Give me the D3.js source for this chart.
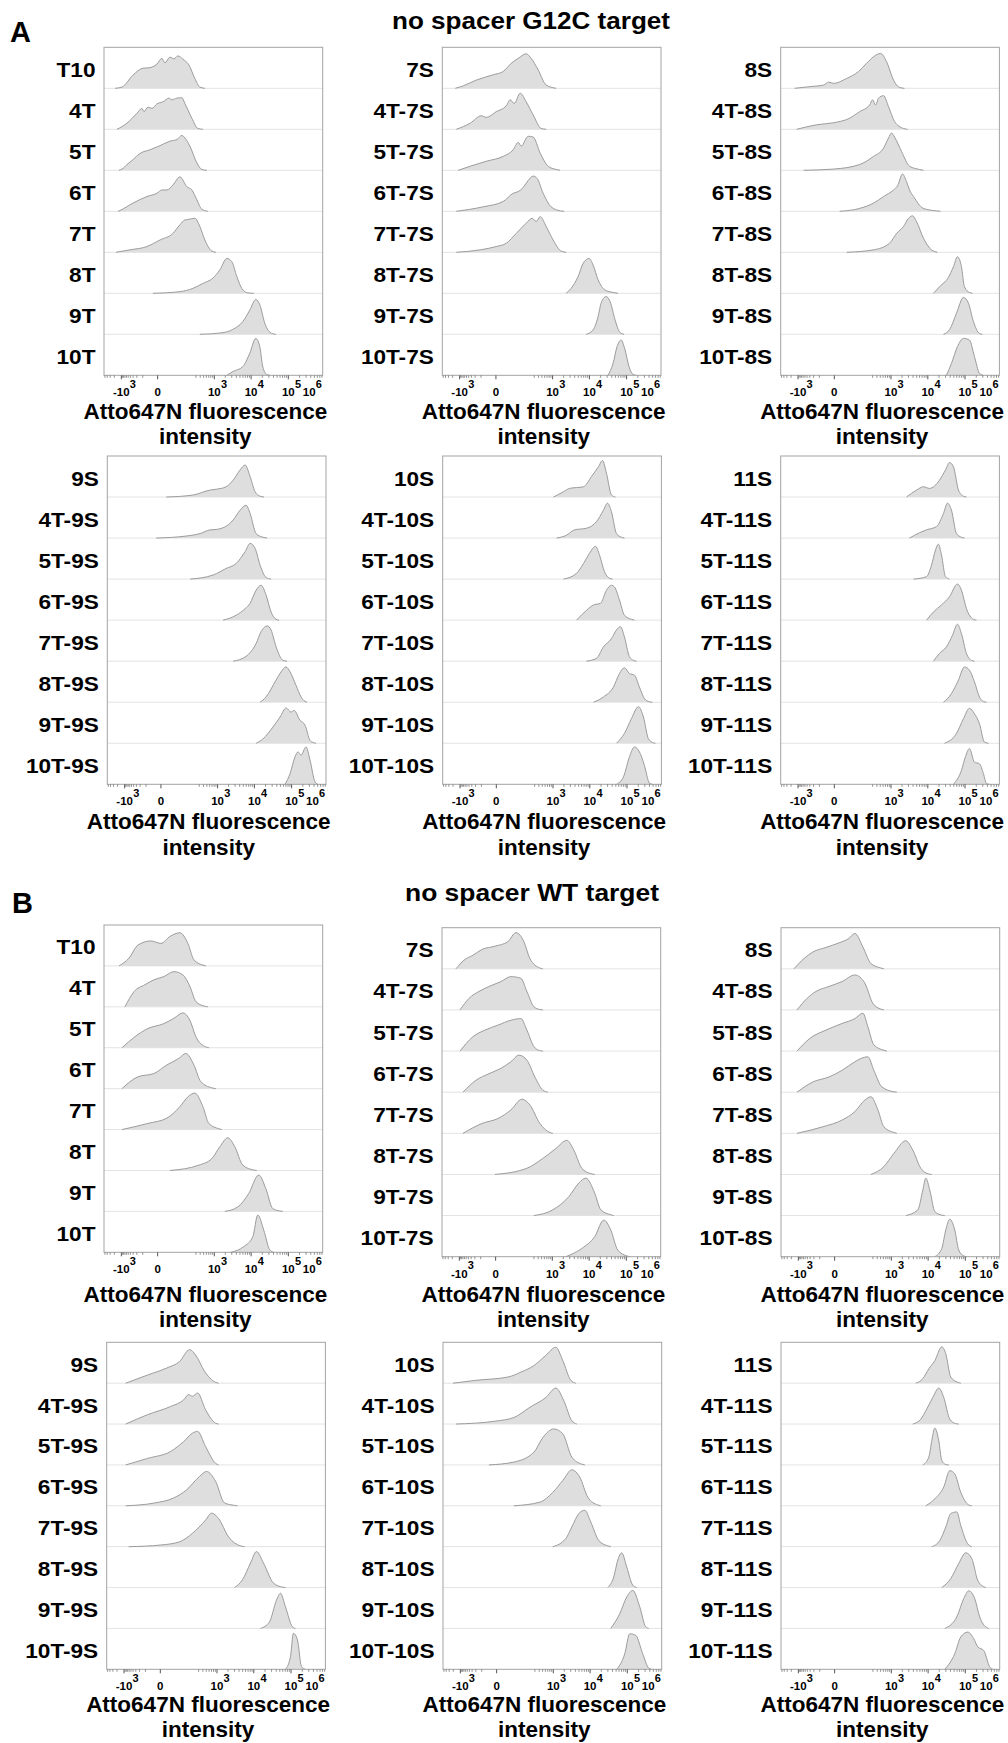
<!DOCTYPE html>
<html>
<head>
<meta charset="utf-8">
<script src="https://cdn.jsdelivr.net/npm/d3@7"></script>
<style>
  body { margin: 0; background: #fff; }
  svg text { font-family: "Liberation Sans", Arial, sans-serif; font-weight: bold; fill: #000; }
</style>
</head>
<body>
<div id="chart"></div>
<script>
// row labels (same in A and B)
const labelsT   = ["T10", "4T", "5T", "6T", "7T", "8T", "9T", "10T"];
const labels7S  = ["7S", "4T-7S", "5T-7S", "6T-7S", "7T-7S", "8T-7S", "9T-7S", "10T-7S"];
const labels8S  = ["8S", "4T-8S", "5T-8S", "6T-8S", "7T-8S", "8T-8S", "9T-8S", "10T-8S"];
const labels9S  = ["9S", "4T-9S", "5T-9S", "6T-9S", "7T-9S", "8T-9S", "9T-9S", "10T-9S"];
const labels10S = ["10S", "4T-10S", "5T-10S", "6T-10S", "7T-10S", "8T-10S", "9T-10S", "10T-10S"];
const labels11S = ["11S", "4T-11S", "5T-11S", "6T-11S", "7T-11S", "8T-11S", "9T-11S", "10T-11S"];

// histograms: [display channel (0-219, biex), % of mode]
const a_T = [
  [[11,0],[18,3],[29,32],[39,49],[45,50],[53,59],[58,73],[61,62],[66,76],[70,72],[74,79],[79,71],[85,57],[91,24],[96,3],[101,0]],
  [[13,0],[23,15],[33,39],[38,51],[40,43],[44,54],[48,51],[53,62],[59,67],[65,76],[68,72],[73,76],[78,77],[81,63],[88,27],[94,2],[99,0]],
  [[15,0],[18,3],[23,14],[29,26],[36,41],[46,50],[56,60],[66,71],[73,75],[78,85],[81,79],[86,59],[93,18],[98,2],[103,0]],
  [[14,0],[16,2],[29,20],[43,36],[53,44],[58,52],[63,52],[69,64],[76,84],[83,60],[88,52],[93,28],[98,5],[104,0]],
  [[12,0],[26,6],[43,14],[56,30],[69,46],[76,67],[81,79],[84,80],[91,83],[96,63],[101,30],[108,3],[112,0]],
  [[49,0],[76,4],[89,12],[99,24],[109,37],[116,57],[123,85],[128,77],[133,41],[138,12],[144,1],[150,0]],
  [[96,0],[119,4],[129,12],[139,31],[146,59],[152,85],[156,72],[161,27],[168,2],[172,0]],
  [[123,0],[129,9],[139,21],[146,54],[152,90],[156,70],[159,21],[163,2],[166,0]]
];
const a_7S = [
  [[13,0],[21,6],[34,20],[51,33],[61,41],[69,61],[76,73],[84,84],[89,73],[96,45],[104,8],[114,0]],
  [[14,0],[28,15],[39,33],[44,29],[54,43],[64,57],[68,72],[72,63],[78,88],[84,67],[91,35],[99,2],[104,0]],
  [[16,0],[28,10],[44,22],[61,34],[71,50],[76,68],[79,59],[86,83],[91,81],[98,42],[106,10],[114,2],[118,0]],
  [[14,0],[41,11],[61,24],[71,44],[76,48],[81,58],[86,75],[91,86],[95,80],[101,44],[109,11],[118,1],[122,0]],
  [[14,0],[38,6],[54,14],[64,22],[74,46],[84,71],[90,83],[94,75],[98,87],[104,63],[111,30],[119,3],[124,0]],
  [[124,0],[129,12],[136,41],[141,73],[147,85],[151,69],[156,33],[163,8],[171,2],[176,0]],
  [[144,0],[151,11],[156,43],[159,76],[164,92],[168,80],[173,35],[178,4],[182,0]],
  [[166,0],[171,29],[175,70],[179,86],[183,62],[187,21],[191,2],[194,0]]
];
const a_8S = [
  [[14,0],[29,4],[43,8],[48,15],[53,12],[66,24],[78,41],[86,61],[93,77],[100,85],[106,65],[113,20],[119,2],[124,0]],
  [[16,0],[36,11],[53,16],[69,27],[79,43],[89,59],[92,72],[95,59],[98,76],[103,82],[108,55],[114,19],[123,2],[127,0]],
  [[23,0],[53,3],[79,14],[93,34],[103,54],[108,79],[111,91],[114,81],[121,46],[129,10],[139,2],[143,0]],
  [[59,0],[79,7],[93,20],[103,36],[113,52],[117,62],[122,91],[126,72],[129,52],[133,36],[143,7],[156,1],[160,0]],
  [[66,0],[93,6],[109,22],[116,46],[123,63],[128,83],[132,89],[136,75],[143,34],[151,6],[157,0]],
  [[153,0],[159,16],[168,39],[173,65],[177,89],[181,65],[184,16],[189,2],[192,0]],
  [[163,0],[169,11],[176,51],[183,90],[188,76],[193,31],[199,2],[202,0]],
  [[166,0],[171,29],[177,70],[183,90],[189,86],[194,46],[199,5],[203,0]]
];
const a_9S = [
  [[59,0],[86,5],[103,17],[109,19],[119,25],[126,41],[133,66],[138,78],[143,50],[148,13],[153,2],[157,0]],
  [[49,0],[79,5],[93,11],[103,20],[109,21],[121,32],[126,44],[133,68],[139,80],[143,60],[149,11],[156,2],[160,0]],
  [[83,0],[106,10],[119,26],[129,38],[138,67],[143,87],[148,75],[153,34],[159,4],[164,0]],
  [[116,0],[129,12],[138,28],[143,41],[149,73],[154,85],[159,61],[164,20],[169,2],[172,0]],
  [[126,0],[139,12],[149,43],[154,72],[160,86],[164,76],[169,35],[176,2],[180,0]],
  [[153,0],[159,13],[169,54],[174,74],[179,86],[183,74],[189,41],[194,13],[198,2],[200,0]],
  [[149,0],[156,11],[166,40],[173,64],[179,86],[182,80],[184,76],[187,80],[193,56],[198,44],[203,7],[206,2],[209,0]],
  [[178,0],[183,26],[188,67],[191,79],[194,71],[199,91],[203,59],[208,6],[211,0]]
];
const a_10S = [
  [[111,0],[121,13],[127,21],[141,25],[149,50],[156,74],[160,89],[164,58],[169,5],[173,0]],
  [[114,0],[124,7],[132,20],[144,24],[154,40],[161,68],[165,85],[169,64],[174,11],[179,2],[182,0]],
  [[121,0],[134,14],[141,38],[147,63],[153,80],[157,59],[162,18],[167,2],[170,0]],
  [[134,0],[144,24],[151,37],[158,41],[164,73],[169,85],[172,81],[177,49],[182,12],[189,2],[192,0]],
  [[144,0],[154,7],[161,35],[169,55],[174,76],[178,84],[182,59],[187,11],[191,2],[194,0]],
  [[151,0],[161,13],[171,37],[177,70],[182,84],[187,70],[192,66],[197,37],[202,9],[207,1],[210,0]],
  [[174,0],[182,24],[189,60],[196,89],[201,64],[206,11],[211,1],[213,0]],
  [[174,0],[181,18],[187,67],[192,91],[197,79],[202,46],[207,3],[210,0]]
];
const a_11S = [
  [[126,0],[136,17],[143,25],[149,21],[159,41],[165,66],[169,84],[173,74],[178,17],[183,2],[186,0]],
  [[129,0],[139,13],[146,20],[156,28],[163,60],[167,85],[171,68],[176,11],[181,2],[184,0]],
  [[133,0],[146,6],[151,34],[155,71],[158,85],[161,59],[165,6],[169,0]],
  [[146,0],[153,20],[161,37],[169,57],[177,88],[181,73],[186,28],[193,2],[196,0]],
  [[153,0],[159,19],[166,35],[172,63],[177,90],[181,67],[186,19],[191,2],[194,0]],
  [[163,0],[171,21],[178,54],[184,86],[189,78],[194,50],[199,13],[203,2],[206,0]],
  [[164,0],[176,24],[183,60],[189,85],[194,72],[199,48],[204,3],[208,0]],
  [[173,0],[181,34],[185,67],[189,87],[194,54],[199,50],[203,26],[206,2],[209,0]]
];

const b_T = [
  [[15,0],[25,19],[34,51],[47,61],[57,55],[66,72],[76,81],[84,55],[90,15],[99,2],[102,0]],
  [[21,0],[30,37],[41,54],[50,66],[60,74],[70,86],[79,78],[86,50],[92,13],[100,2],[104,0]],
  [[18,0],[31,27],[44,47],[60,59],[70,72],[79,85],[86,67],[92,27],[102,2],[105,0]],
  [[18,0],[34,29],[50,37],[63,58],[75,74],[82,86],[90,58],[97,17],[108,2],[112,0]],
  [[18,0],[44,15],[63,28],[76,56],[84,80],[91,89],[99,56],[105,15],[115,2],[118,0]],
  [[66,0],[95,13],[108,29],[116,58],[124,80],[131,58],[139,13],[150,1],[153,0]],
  [[121,0],[134,11],[145,44],[155,89],[162,56],[169,7],[176,1],[179,0]],
  [[127,0],[140,14],[149,38],[154,91],[160,54],[166,6],[170,0]]
];
const b_7S = [
  [[14,0],[22,21],[31,33],[40,47],[53,55],[66,66],[74,88],[82,66],[88,25],[98,2],[101,0]],
  [[18,0],[27,28],[37,45],[47,57],[59,69],[69,81],[79,77],[85,45],[92,8],[98,1],[101,0]],
  [[18,0],[31,35],[43,51],[56,63],[69,75],[79,79],[85,51],[92,11],[98,1],[101,0]],
  [[21,0],[34,29],[47,45],[59,58],[69,74],[77,90],[85,78],[93,37],[101,5],[106,0]],
  [[21,0],[40,24],[56,36],[69,57],[80,83],[88,69],[98,24],[108,2],[111,0]],
  [[53,0],[85,15],[101,39],[114,63],[125,83],[132,59],[140,15],[149,2],[153,0]],
  [[92,0],[111,14],[127,46],[137,79],[144,91],[153,54],[159,14],[169,2],[172,0]],
  [[124,0],[140,20],[153,49],[162,89],[169,65],[176,16],[185,2],[188,0]]
];
const b_8S = [
  [[13,0],[23,25],[32,41],[45,52],[58,63],[68,74],[74,86],[82,53],[90,13],[100,2],[103,0]],
  [[16,0],[26,28],[35,45],[48,57],[61,69],[74,85],[84,65],[92,16],[100,2],[103,0]],
  [[16,0],[29,31],[45,51],[61,67],[74,79],[82,92],[87,59],[93,15],[103,2],[106,0]],
  [[16,0],[32,25],[48,37],[61,53],[74,74],[80,82],[87,86],[93,53],[101,13],[113,1],[116,0]],
  [[16,0],[42,16],[61,32],[74,53],[84,81],[90,89],[97,57],[103,16],[113,2],[116,0]],
  [[90,0],[103,19],[113,51],[125,82],[132,59],[140,15],[148,1],[151,0]],
  [[125,0],[137,14],[142,62],[145,91],[149,62],[154,10],[161,1],[164,0]],
  [[154,0],[161,20],[165,65],[169,91],[174,65],[178,16],[183,2],[186,0]]
];
const b_9S = [
  [[19,0],[41,20],[60,37],[73,53],[83,82],[89,69],[98,29],[109,2],[112,0]],
  [[19,0],[41,23],[64,43],[77,59],[82,72],[86,68],[91,76],[99,35],[109,2],[112,0]],
  [[19,0],[41,16],[64,33],[77,57],[86,78],[91,82],[99,45],[109,4],[112,0]],
  [[19,0],[48,7],[67,19],[80,39],[93,72],[100,84],[109,60],[118,7],[128,1],[131,0]],
  [[22,0],[54,4],[73,12],[86,33],[99,65],[105,82],[112,69],[122,24],[134,2],[138,0]],
  [[128,0],[136,19],[144,60],[150,88],[157,60],[167,11],[176,1],[179,0]],
  [[154,0],[163,16],[170,69],[174,86],[179,53],[186,4],[189,0]],
  [[179,0],[184,31],[187,88],[191,72],[195,7],[199,0]]
];
const b_10S = [
  [[10,0],[33,7],[65,15],[78,27],[91,43],[103,68],[113,88],[120,55],[128,7],[133,0]],
  [[13,0],[52,7],[71,16],[87,41],[103,65],[113,88],[121,57],[129,8],[134,0]],
  [[46,0],[71,7],[91,31],[100,67],[111,88],[120,76],[129,19],[139,2],[142,0]],
  [[71,0],[97,9],[110,33],[120,62],[129,88],[137,70],[145,21],[155,2],[158,0]],
  [[110,0],[123,20],[129,48],[136,81],[142,89],[148,60],[156,15],[165,2],[168,0]],
  [[165,0],[171,26],[175,67],[179,85],[184,50],[190,6],[194,0]],
  [[168,0],[177,36],[184,77],[190,93],[197,53],[203,4],[206,0]],
  [[174,0],[182,38],[187,87],[193,83],[200,38],[206,3],[209,0]]
];
const b_11S = [
  [[135,0],[142,11],[148,35],[154,55],[161,89],[165,72],[170,15],[177,2],[180,0]],
  [[132,0],[140,12],[146,37],[152,65],[158,88],[163,65],[169,12],[175,1],[178,0]],
  [[142,0],[148,19],[151,59],[154,90],[158,59],[161,11],[165,1],[168,0]],
  [[145,0],[154,17],[163,46],[169,86],[174,78],[180,33],[188,2],[191,0]],
  [[151,0],[159,15],[165,48],[170,81],[176,85],[180,52],[187,7],[191,0]],
  [[161,0],[170,22],[178,59],[185,85],[191,71],[197,18],[203,2],[205,0]],
  [[164,0],[176,28],[183,73],[188,92],[194,73],[199,28],[206,2],[208,0]],
  [[164,0],[174,38],[180,79],[187,91],[193,75],[197,55],[203,46],[209,6],[212,0]]
];

// axis ticks
const tickValues = [-1e3, 0, 1e3, 1e4, 1e5, 1e6];
const tickBase   = ["-10", "0", "10", "10", "10", "10"];
const tickExp    = ["3", "", "3", "4", "5", "6"];

// biexponential display: intensity -> channel
const CH_MAX = 219, ZERO = 53.7, DEC = 37.3, LIN = 31, NEG = 0.64;
function chan(v) {
  return v >= 0 ? ZERO + DEC * Math.log10(1 + v / LIN)
                : ZERO - NEG * DEC * Math.log10(1 - v / LIN);
}
const minorValues = [];
[-5000, -4000, -3000, -2000].forEach(v => minorValues.push(v));
for (let k = -900; k <= -100; k += 100) minorValues.push(k);
for (let k = 300; k <= 900; k += 100) minorValues.push(k);
[1e3, 1e4, 1e5].forEach(d => { for (let m = 2; m <= 9; m++) if (chan(m * d) < CH_MAX) minorValues.push(m * d); });

const W = 218.7;
const panels = [
  { labels: labelsT,   data: a_T,   left: 104,   top: 47.3,  h: 328,   t1: 419,  t2: 444 },
  { labels: labels7S,  data: a_7S,  left: 442.3, top: 47.3,  h: 328,   t1: 419,  t2: 444 },
  { labels: labels8S,  data: a_8S,  left: 780.7, top: 47.3,  h: 328,   t1: 419,  t2: 444 },
  { labels: labels9S,  data: a_9S,  left: 107.3, top: 456,   h: 328.3, t1: 829,  t2: 855 },
  { labels: labels10S, data: a_10S, left: 442.7, top: 456,   h: 328.3, t1: 829,  t2: 855 },
  { labels: labels11S, data: a_11S, left: 780.7, top: 456,   h: 328.3, t1: 829,  t2: 855 },
  { labels: labelsT,   data: b_T,   left: 104,   top: 925,   h: 327.3, t1: 1302, t2: 1327 },
  { labels: labels7S,  data: b_7S,  left: 442,   top: 927.7, h: 329,   t1: 1302, t2: 1327 },
  { labels: labels8S,  data: b_8S,  left: 781,   top: 927.7, h: 329,   t1: 1302, t2: 1327 },
  { labels: labels9S,  data: b_9S,  left: 106.7, top: 1342.3, h: 327,  t1: 1712, t2: 1737 },
  { labels: labels10S, data: b_10S, left: 443,   top: 1342.3, h: 327,  t1: 1712, t2: 1737 },
  { labels: labels11S, data: b_11S, left: 781,   top: 1342.3, h: 327,  t1: 1712, t2: 1737 }
];

const svg = d3.select("#chart").append("svg")
  .attr("width", 1008).attr("height", 1743);

// stretch a text horizontally (the figure's labels are set wide)
function widen(sel, k) {
  const len = sel.node().getComputedTextLength();
  sel.attr("textLength", len * k).attr("lengthAdjust", "spacingAndGlyphs");
}

// figure letters and titles
svg.append("text").attr("x", 10).attr("y", 42).style("font-size", "29px").text("A");
svg.append("text").attr("x", 12).attr("y", 913).style("font-size", "29px").text("B");
svg.append("text").attr("x", 531).attr("y", 29).attr("text-anchor", "middle")
  .attr("textLength", 278).attr("lengthAdjust", "spacingAndGlyphs")
  .style("font-size", "23.5px").text("no spacer G12C target");
svg.append("text").attr("x", 532).attr("y", 901).attr("text-anchor", "middle")
  .attr("textLength", 254).attr("lengthAdjust", "spacingAndGlyphs")
  .style("font-size", "23.5px").text("no spacer WT target");

const x = d3.scaleLinear().domain([0, CH_MAX]).range([0, W]);

panels.forEach(p => {
  const g = svg.append("g").attr("transform", `translate(${p.left},${p.top})`);
  const rowH = p.h / p.labels.length;

  p.data.forEach((hist, i) => {
    const base = rowH * (i + 1);
    const y = d3.scaleLinear().domain([0, 100]).range([base, base - rowH]);

    if (i < p.labels.length - 1) {
      g.append("line").attr("x1", 0).attr("x2", W).attr("y1", base).attr("y2", base)
        .attr("stroke", "#e3e3e3").attr("stroke-width", 1);
    }

    g.append("path").datum(hist)
      .attr("d", d3.area().x(d => x(d[0])).y0(base).y1(d => y(d[1])).curve(d3.curveMonotoneX))
      .attr("fill", "#dedede");
    g.append("path").datum(hist)
      .attr("d", d3.line().x(d => x(d[0])).y(d => y(d[1])).curve(d3.curveMonotoneX))
      .attr("fill", "none").attr("stroke", "#9c9c9c").attr("stroke-width", 1);

    const lab = g.append("text")
      .attr("x", -8.5).attr("y", rowH * i + rowH * 0.72)
      .attr("text-anchor", "end")
      .style("font-size", "19.5px")
      .text(p.labels[i]);
    widen(lab, 1.16);
  });

  // frame
  g.append("rect").attr("x", 0).attr("y", 0).attr("width", W).attr("height", p.h)
    .attr("fill", "none").attr("stroke", "#a3a3a3").attr("stroke-width", 1);

  // ticks
  const ax = g.append("g").attr("transform", `translate(0,${p.h})`);
  ax.selectAll(".minor").data(minorValues).enter().append("line")
    .attr("x1", d => x(chan(d))).attr("x2", d => x(chan(d)))
    .attr("y1", 0).attr("y2", 2.5).attr("stroke", "#777").attr("stroke-width", 0.8);
  ax.selectAll(".major").data(tickValues.filter(v => chan(v) <= CH_MAX)).enter().append("line")
    .attr("x1", d => x(chan(d))).attr("x2", d => x(chan(d)))
    .attr("y1", 0).attr("y2", 4).attr("stroke", "#555").attr("stroke-width", 1);

  tickValues.forEach((v, i) => {
    // the last label is pulled inside the frame, as in the figure
    const tx = Math.min(x(chan(v)), W - 13.5);
    const bt = ax.append("text").attr("x", tx).attr("y", 21)
      .attr("text-anchor", "middle").style("font-size", "11.5px").text(tickBase[i]);
    if (tickExp[i]) {
      const bw = bt.node().getComputedTextLength();
      ax.append("text").attr("x", tx + bw / 2 + 0.2).attr("y", 12.5)
        .style("font-size", "11px").text(tickExp[i]);
    }
  });

  // axis title
  const cx = p.left + W / 2 - 8;
  svg.append("text").attr("x", cx).attr("y", p.t1).attr("text-anchor", "middle")
    .style("font-size", "22.5px").text("Atto647N fluorescence");
  svg.append("text").attr("x", cx).attr("y", p.t2).attr("text-anchor", "middle")
    .style("font-size", "22.5px").text("intensity");
});
</script>
</body>
</html>
